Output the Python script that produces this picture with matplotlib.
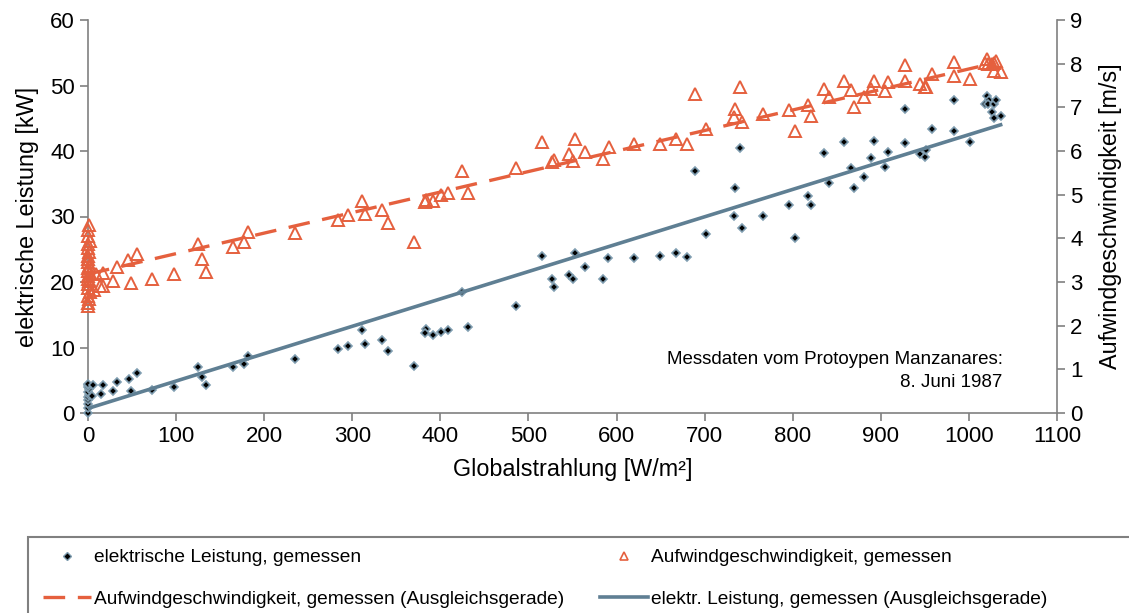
import numpy as np
from matplotlib import pyplot as plt
from matplotlib.lines import Line2D
from matplotlib.patches import Rectangle

plt.rcParams['font.family'] = ['Liberation Sans', 'DejaVu Sans']

# Globalstrahlung [W/m²] / elektrische Leistung [kW]
power_x = [0, 0, 0, 0, 0, 1, 0, 1, 0, 0, 0,
           6, 16.7, 33, 46.6, 56, 28.8, 14.4, 4.9, 48.9, 72.4, 98, 125, 129.5, 134.4, 164.4, 177, 181.5,
           235, 283.7, 295, 311, 314.8, 334, 341, 369.7, 384, 383, 391.7, 400.8, 408.7, 431.8, 424.2, 486, 515.5,
           527, 529.5, 545.5, 550.8, 552.6, 564, 585, 590.5, 619.3, 649, 667.4, 680.3, 689.4, 701.5, 733.3,
           734.5, 740.5, 742, 766.3, 795.5, 802.3,
           817.8, 820.5, 835.6, 841.3, 858.3, 866.3, 869, 881.4, 888.6, 891.7, 904.9, 908.7, 927.6, 928,
           944.7, 949.6, 951, 958, 983, 983.3, 1001, 1018, 1021, 1022.4, 1022, 1029, 1031, 1026, 1029, 1036]
power_y = [0, 0.8, 1.4, 2.0, 2.4, 2.8, 3.2, 3.6, 3.9, 4.2, 4.4,
           4.2, 4.3, 4.8, 5.2, 6.1, 3.3, 2.9, 2.6, 3.4, 3.5, 4.0, 7.0, 5.5, 4.2, 7.0, 7.5, 8.7,
           8.2, 9.7, 10.3, 12.6, 10.6, 11.1, 9.5, 7.2, 12.8, 12.2, 11.9, 12.3, 12.6, 13.2, 18.4, 16.4, 24.0,
           20.4, 19.3, 21.0, 20.5, 24.5, 22.3, 20.4, 23.7, 23.7, 24.0, 24.5, 23.8, 36.9, 27.4, 30.1,
           34.3, 40.5, 28.2, 30.1, 31.8, 26.7,
           33.2, 31.8, 39.7, 35.1, 41.3, 37.4, 34.3, 36.1, 38.9, 41.6, 37.6, 39.8, 46.4, 41.2,
           39.5, 39.1, 40.2, 43.3, 47.8, 43.1, 41.4, 47.2, 48.4, 47.8, 47.2, 47.2, 47.8, 46.0, 45.0, 45.4]

# Globalstrahlung [W/m²] / Aufwindgeschwindigkeit [m/s]
wind_x = [0, 0, 1, 0, 2, 0, 0, 1, 0, 0, 2, 0, 0, 1, 0, 0, 0, 1, 0, 0, 2, 0, 0, 1,
          6.4, 13.6, 16.7, 8.7, 16.7, 28.8, 32.6, 45.8, 56, 48.5, 72.4, 98, 125.4, 129.5, 134.4, 164.4, 177, 181.5,
          235.2, 283.7, 295, 311, 314.8, 334, 341, 369.7, 383, 384, 391.7, 400.8, 408.7, 431.8, 424,
          486, 515.5, 527, 529.5, 545.5, 550.8, 552.6, 564, 585, 591, 619.3, 649, 667.4, 680.3, 689.4, 701.5,
          733.3, 734.5, 740.5, 742, 766.3, 795.5, 802.3,
          817.8, 820.5, 835.6, 841.3, 858.3, 866.3, 869, 881.4, 888.6, 891.7, 904.9, 908.7, 927.6, 928,
          944.7, 949.6, 951, 958, 983, 983.3, 1001, 1021, 1018, 1031, 1026, 1029, 1036, 1022, 1029]
wind_y = [2.45, 2.52, 2.6, 2.68, 2.78, 2.86, 2.95, 3.02, 3.08, 3.14, 3.2, 3.26, 3.31, 3.37, 3.45, 3.52,
          3.6, 3.68, 3.77, 3.86, 3.95, 4.06, 4.18, 4.3,
          2.82, 2.91, 2.91, 3.18, 3.2, 3.02, 3.35, 3.5, 3.63, 2.97, 3.07, 3.18, 3.87, 3.53, 3.24, 3.8, 3.92, 4.15,
          4.13, 4.43, 4.53, 4.85, 4.56, 4.65, 4.36, 3.92, 4.84, 4.87, 4.86, 4.99, 5.03, 5.03, 5.54,
          5.6, 6.21, 5.75, 5.79, 5.92, 5.78, 6.27, 5.97, 5.82, 6.1, 6.15, 6.16, 6.27, 6.15, 7.3, 6.5,
          6.77, 6.96, 7.46, 6.66, 6.84, 6.94, 6.46,
          7.05, 6.81, 7.43, 7.23, 7.61, 7.4, 7.0, 7.23, 7.42, 7.61, 7.37, 7.58, 7.97, 7.61,
          7.53, 7.46, 7.47, 7.76, 8.04, 7.72, 7.64, 8.11, 8.02, 8.07, 8.0, 7.84, 7.82, 8.0, 8.02]

# Ausgleichsgeraden (Endpunkte)
power_fit_x = [0, 1036]
power_fit_y = [0.7, 44.0]
wind_fit_x = [0, 1030]
wind_fit_y = [3.18, 8.02]

orange = '#E5603E'
slate = '#5F7F93'
gray = '#808080'

fig = plt.figure(figsize=(11.29, 6.13), dpi=100)
ax1 = fig.add_axes([88/1129, 200/613, 969/1129, 393/613])
ax2 = ax1.twinx()

ax1.plot(power_x, power_y, linestyle='none', marker='D', markersize=4.5,
         mfc='black', mec='#7F9DB0', mew=1.2, clip_on=False, zorder=3)
ax1.plot(power_fit_x, power_fit_y, color=slate, lw=2.6, zorder=4)

ax2.plot(wind_x, wind_y, linestyle='none', marker='^', markersize=8.5,
         mfc='none', mec=orange, mew=1.4, clip_on=False, zorder=3)
ax2.plot(wind_fit_x, wind_fit_y, color=orange, lw=2.4, dashes=(6.5, 3.8), zorder=4)

ax1.set_xlim(0, 1100)
ax1.set_ylim(0, 60)
ax2.set_ylim(0, 9)
ax1.set_xticks(np.arange(0, 1101, 100))
ax1.set_yticks(np.arange(0, 61, 10))
ax2.set_yticks(np.arange(0, 10, 1))

for ax in (ax1, ax2):
    ax.spines['top'].set_visible(False)
    for s in ('left', 'right', 'bottom'):
        ax.spines[s].set_color(gray)
        ax.spines[s].set_linewidth(1.2)
    ax.tick_params(direction='out', length=6, width=1.2, color=gray, labelsize=16, labelcolor='black')
ax1.spines['right'].set_visible(False)
ax2.spines['left'].set_visible(False)
ax2.spines['bottom'].set_visible(False)

ax1.set_xlabel('Globalstrahlung [W/m²]', fontsize=16.8, labelpad=8)
ax1.set_ylabel('elektrische Leistung [kW]', fontsize=16.8, labelpad=8)
ax2.set_ylabel('Aufwindgeschwindigkeit [m/s]', fontsize=16.8, labelpad=12)

ax1.text(0.944, 0.107, 'Messdaten vom Protoypen Manzanares:\n8. Juni 1987', transform=ax1.transAxes,
         ha='right', va='center', fontsize=13.5, linespacing=1.5)

# Legende
handles = [
    Line2D([], [], linestyle='none', marker='D', markersize=4, mfc='black', mec='#7F9DB0', mew=1.0),
    Line2D([], [], color=orange, lw=2.4, dashes=(6.5, 3.8)),
    Line2D([], [], linestyle='none', marker='^', markersize=6, mfc='none', mec=orange, mew=1.2),
    Line2D([], [], color=slate, lw=2.6),
]
labels = ['elektrische Leistung, gemessen',
          'Aufwindgeschwindigkeit, gemessen (Ausgleichsgerade)',
          'Aufwindgeschwindigkeit, gemessen',
          'elektr. Leistung, gemessen (Ausgleichsgerade)']
fig.legend(handles, labels, ncol=2, loc='upper left', bbox_to_anchor=(43/1129, 1 - 549/613),
           frameon=False, fontsize=13.8, handlelength=2.5, handletextpad=0.15,
           columnspacing=1.88, labelspacing=1.25, borderpad=0, borderaxespad=0)
fig.patches.append(Rectangle((28/1129, -0.1), 1.1, 0.1 + (613 - 537)/613, transform=fig.transFigure,
                             fill=False, edgecolor=gray, lw=1.5))

plt.savefig('out.png', dpi=100)
